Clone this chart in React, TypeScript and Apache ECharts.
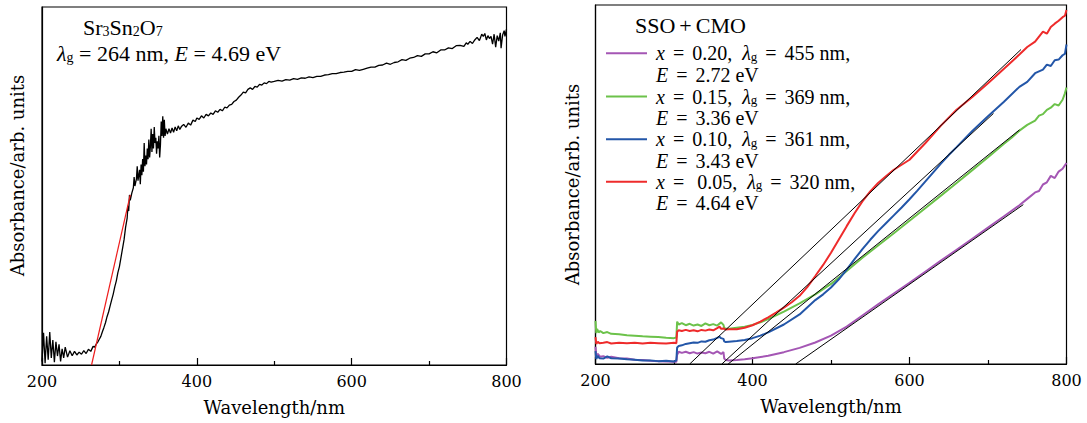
import React, { useEffect, useRef } from 'react';
import * as echarts from 'echarts';

// ---------- Left panel: Sr3Sn2O7 ----------
const ssoWavelength = [
  200, 202, 204, 206, 208, 210, 212, 214, 216, 218, 220, 222, 224, 226, 228, 230, 233, 236, 239, 242,
  245, 248, 251, 254, 257, 260, 263, 266, 268,
  270, 272, 274, 276, 278, 280, 282, 284, 286, 288,
  290, 292, 294, 296, 298, 300, 302, 304, 306, 308, 310, 311, 312, 313, 314, 316, 318, 319, 320, 322,
  323, 324, 326, 327, 328, 329, 330, 331, 332, 333, 334, 335, 336, 337, 338, 339, 340, 341, 342, 343,
  344, 345, 346, 347, 348, 349, 350, 351, 352, 353, 354, 355, 356, 357, 358, 359, 360, 362, 364, 366,
  368, 370, 372, 374, 376, 378, 380, 383, 386, 389, 392, 395, 398, 400, 403, 406, 409, 412, 415, 418,
  421, 424, 427, 430, 433, 436, 439, 442, 445, 448, 451, 454, 457, 460, 463, 466, 469, 472, 475, 478,
  481, 484, 487, 490, 493, 496, 500, 505, 510, 515, 520, 525, 530, 535, 540, 545, 550, 555, 560, 565,
  570, 575, 580, 585, 590, 595, 600, 605, 610, 615, 620, 625, 630, 635, 640, 645, 650, 655, 660, 665,
  670, 675, 680, 685, 690, 695, 700, 705, 710, 715, 720, 725, 730, 735, 740, 745, 748, 750, 753, 756,
  759, 762, 765, 768, 770, 772, 774, 776, 778, 780, 782, 784, 786, 788, 790, 792, 793, 795, 797, 798, 800,
];
const ssoAbsorbance = [
  1.0, 9.0, 0.5, 8.0, 1.5, 9.2, 2.0, 7.0, 0.8, 6.5, 2.5, 5.8, 1.0, 4.5, 2.0, 5.0, 2.2, 4.0, 2.6, 3.8,
  2.8, 3.6, 3.0, 4.0, 3.2, 4.4, 3.8, 5.2, 5.0,
  5.8, 6.4, 7.2, 8.0, 9.3, 10.5, 11.8, 13.5, 14.8, 16.5,
  18.2, 19.8, 21.8, 23.5, 25.8, 27.5, 30.0, 32.5, 35.0, 38.5, 41.0, 44.5, 43.0, 47.5, 46.0, 48.0, 49.5, 52.5, 50.0, 52.0,
  55.5, 51.5, 54.5, 50.5, 56.0, 53.0, 57.5, 54.0, 62.0, 55.5, 58.5, 56.0, 60.5, 57.5, 63.0, 58.0, 61.0, 66.0, 59.5, 64.5,
  60.5, 66.5, 62.0, 63.5, 59.0, 62.5, 60.5, 64.0, 58.0, 61.5, 68.0, 64.0, 69.5, 63.5, 68.5, 64.0, 66.0, 64.5, 66.0, 64.8,
  66.2, 65.0, 66.5, 65.4, 66.8, 65.8, 66.6, 67.2, 66.4, 67.6, 67.0, 68.4, 68.0, 69.0, 68.6, 69.6, 69.0, 70.0, 69.6, 70.4,
  70.0, 71.0, 70.6, 71.4, 71.0, 72.0, 71.8, 72.6, 72.8, 73.6, 74.0, 74.8, 75.4, 76.2, 76.0, 77.0, 77.4, 77.0, 77.8, 77.6,
  78.4, 78.2, 78.8, 78.6, 79.2, 79.0, 79.2, 79.5, 79.3, 79.7, 79.6, 80.0, 79.8, 80.2, 80.1, 80.5, 80.3, 80.6, 80.6, 81.0,
  81.1, 81.4, 81.4, 81.7, 81.8, 82.0, 82.0, 82.5, 82.3, 82.6, 82.9, 83.2, 83.2, 83.7, 83.8, 84.3, 84.0, 84.5, 84.7, 85.3,
  85.1, 85.7, 85.9, 86.4, 86.2, 86.9, 86.9, 87.5, 87.2, 88.0, 88.0, 88.6, 88.4, 89.2, 89.3, 89.0, 90.0, 89.6, 90.4, 89.8,
  90.8, 91.5, 90.6, 92.4, 91.8, 92.6, 90.8, 92.0, 91.2, 91.8, 89.6, 92.4, 88.8, 92.0, 90.5, 92.8, 88.5, 92.2, 93.4, 91.8, 93.8,
];
const ssoFitWavelength = [264, 314];
const ssoFitAbsorbance = [0, 47.5];

// ---------- Right panel: SSO+CMO ----------
const x020Wavelength = [
  200, 201, 203, 206, 210, 215, 220, 230, 240, 250, 260, 270, 280, 290, 300, 303, 304, 306, 310, 315,
  320, 325, 330, 335, 340, 345, 350, 355, 360, 363, 364, 366, 370, 380, 390, 400, 420, 440, 460, 480,
  500, 520, 540, 560, 580, 600, 620, 640, 660, 680, 700, 720, 740, 750, 760, 765, 770, 775, 780, 785,
  790, 795, 800,
];
const x020Absorbance = [
  4.8, 2.4, 2.8, 2.0, 2.2, 1.7, 2.0, 1.6, 1.5, 1.2, 1.1, 0.9, 0.8, 0.7, 0.6, 0.6, 2.6, 3.4, 3.1, 3.4,
  3.0, 3.3, 2.9, 3.2, 3.0, 3.4, 2.9, 3.5, 2.8, 3.3, 1.5, 1.1, 1.0, 1.1, 1.3, 1.6, 2.3, 3.3, 4.5, 6.0,
  7.9, 10.4, 13.5, 16.6, 19.6, 22.6, 25.7, 28.8, 31.8, 34.9, 38.0, 41.1, 44.2, 46.0, 47.8, 48.2, 50.0, 50.6, 52.4, 51.8,
  53.6, 54.4, 56.0,
];
const x015Wavelength = [
  200, 201, 202, 204, 206, 210, 215, 220, 230, 240, 250, 260, 270, 280, 290, 300, 303, 304, 306, 310,
  315, 320, 325, 330, 335, 340, 345, 350, 355, 360, 363, 364, 366, 370, 380, 390, 400, 410, 420, 440,
  460, 480, 500, 520, 540, 560, 580, 600, 620, 640, 660, 680, 700, 720, 730, 740, 750, 760, 765, 770,
  775, 780, 785, 790, 795, 798, 800,
];
const x015Absorbance = [
  12.0, 8.6, 9.8, 8.8, 9.2, 8.6, 8.9, 8.4, 8.3, 8.0, 7.9, 7.7, 7.6, 7.5, 7.3, 7.2, 7.4, 11.8, 11.0, 11.4,
  10.8, 11.2, 10.7, 11.0, 10.6, 11.3, 10.8, 11.1, 10.7, 11.6, 10.9, 10.0, 9.9, 9.8, 10.1, 10.4, 10.9, 11.6, 12.5, 14.6,
  16.9, 19.4, 22.3, 25.9, 29.6, 33.0, 36.4, 39.9, 43.4, 46.9, 50.4, 54.0, 57.6, 61.3, 63.0, 65.0, 66.6, 67.8, 69.2, 69.6,
  70.8, 71.4, 72.4, 72.0, 73.6, 75.4, 77.0,
];
const x010Wavelength = [
  200, 201, 203, 205, 210, 215, 220, 230, 240, 250, 260, 270, 280, 290, 300, 303, 304, 306, 310, 315,
  320, 325, 330, 335, 340, 345, 350, 355, 358, 360, 363, 364, 366, 370, 380, 390, 400, 410, 420, 440,
  460, 480, 490, 500, 510, 520, 530, 540, 550, 560, 570, 580, 590, 600, 610, 620, 630, 640, 650, 660,
  680, 700, 720, 740, 750, 760, 770, 775, 780, 785, 790, 795, 798, 800,
];
const x010Absorbance = [
  3.6, 1.4, 2.3, 1.6, 1.5, 2.1, 1.6, 1.5, 1.3, 1.2, 1.0, 1.0, 0.8, 0.9, 0.7, 1.0, 4.6, 5.0, 5.2, 5.6,
  5.8, 6.0, 5.9, 6.3, 6.2, 6.6, 6.8, 7.3, 7.6, 7.2, 7.0, 6.3, 6.1, 6.2, 6.4, 6.7, 7.2, 7.9, 8.8, 11.0,
  13.8, 17.8, 19.4, 21.3, 23.6, 26.3, 29.2, 32.0, 34.6, 37.0, 39.2, 41.4, 43.6, 45.9, 48.3, 50.8, 53.3, 55.8, 58.2, 60.4,
  64.9, 69.0, 73.0, 77.2, 78.6, 81.0, 82.0, 83.4, 83.0, 84.6, 84.8, 86.0, 86.4, 89.0,
];
const x005Wavelength = [
  200, 201, 203, 205, 210, 215, 220, 230, 240, 250, 260, 270, 280, 290, 300, 303, 304, 306, 310, 315,
  320, 325, 330, 335, 340, 345, 350, 355, 358, 360, 363, 366, 370, 380, 390, 400, 410, 420, 430, 440,
  450, 460, 470, 480, 490, 500, 510, 520, 530, 540, 550, 560, 570, 580, 590, 600, 610, 620, 640, 660,
  680, 700, 720, 740, 750, 760, 765, 770, 775, 780, 785, 790, 795, 798, 800,
];
const x005Absorbance = [
  7.5, 5.6, 6.2, 5.8, 5.9, 6.1, 5.7, 5.9, 5.8, 5.9, 5.7, 5.9, 5.8, 5.7, 5.9, 5.8, 9.0, 9.4, 9.2, 9.5,
  9.2, 9.4, 9.1, 9.5, 9.3, 9.6, 9.4, 10.0, 10.4, 9.8, 9.9, 9.6, 9.7, 9.7, 10.1, 10.8, 11.8, 13.0, 14.3, 15.7,
  17.2, 19.0, 21.5, 24.5, 27.6, 31.0, 34.7, 38.4, 42.0, 45.3, 48.1, 50.4, 52.3, 54.1, 55.5, 56.9, 59.2, 61.5, 66.4, 70.8,
  74.4, 78.2, 82.2, 86.2, 88.3, 89.8, 91.2, 92.6, 92.0, 93.9, 94.8, 95.6, 96.6, 97.0, 98.6,
];
// Tangent (band-edge) lines
const x020FitWavelength = [455, 745];
const x020FitAbsorbance = [0, 44.4];
const x015FitWavelength = [369, 740];
const x015FitAbsorbance = [0, 65.2];
const x010FitWavelength = [361, 707];
const x010FitAbsorbance = [0, 69.8];
const x005FitWavelength = [320, 742];
const x005FitAbsorbance = [0, 87.6];

const xTickLabels = ['200', '400', '600', '800'];
const xAxisTitle = 'Wavelength/nm';
const yAxisTitle = 'Absorbance/arb. units';
const seriesNames = [
  'x = 0.20, λg = 455 nm, E = 2.72 eV',
  'x = 0.15, λg = 369 nm, E = 3.36 eV',
  'x = 0.10, λg = 361 nm, E = 3.43 eV',
  'x = 0.05, λg = 320 nm, E = 4.64 eV',
];
const seriesColors = ['#a456b4', '#6cc24a', '#2356a8', '#ee2b2b'];

const FONT = "'Liberation Serif', 'Times New Roman', serif";
const AXIS_FONT = 'DejaVu Serif';
const LH = 21.3;

const zip = (xs: number[], ys: number[]) => xs.map((x, i) => [x, ys[i]]);

const richStyles = {
  n: { fontFamily: FONT, fontSize: 20, lineHeight: LH, fill: '#000' },
  i: { fontFamily: FONT, fontSize: 20, lineHeight: LH, fontStyle: 'italic', fill: '#000' },
  e: { fontFamily: FONT, fontSize: 20, lineHeight: LH, padding: [0, 8, 0, 8], fill: '#000' },
  c: { fontFamily: FONT, fontSize: 20, lineHeight: LH, padding: [0, 5, 0, 0], fill: '#000' },
  s: { fontFamily: FONT, fontSize: 13, lineHeight: LH, padding: [6, 0, 0, 0], fill: '#000' },
  N: { fontFamily: FONT, fontSize: 22, lineHeight: 24, fill: '#000' },
  I: { fontFamily: FONT, fontSize: 22, lineHeight: 24, fontStyle: 'italic', fill: '#000' },
  S: { fontFamily: FONT, fontSize: 14, lineHeight: 24, padding: [9, 0, 0, 0], fill: '#000' },
  P: { fontFamily: FONT, fontSize: 22, lineHeight: 24, padding: [0, 4, 0, 4], fill: '#000' },
};

const makeText = (x: number, y: number, text: string, lh: number) => ({
  type: 'text',
  x,
  y,
  silent: true,
  style: {
    text,
    rich: richStyles,
    fontFamily: FONT,
    fontSize: 20,
    lineHeight: lh,
    fill: '#000',
    verticalAlign: 'middle',
    align: 'left',
  },
});

const xAxisBase = (gridIndex: number) => ({
  type: 'value',
  gridIndex,
  min: 200,
  max: 800,
  interval: 200,
  name: xAxisTitle,
  nameLocation: 'middle',
  nameGap: 33,
  nameTextStyle: { fontFamily: AXIS_FONT, fontSize: 18, color: '#000' },
  axisLine: { show: true, lineStyle: { color: '#000', width: 1.2 } },
  axisTick: { show: true, inside: true, length: 7, lineStyle: { color: '#000', width: 1.2 } },
  minorTick: { show: true, splitNumber: 2, length: 4, lineStyle: { color: '#000', width: 1.2 } },
  splitLine: { show: false },
  minorSplitLine: { show: false },
  axisLabel: {
    fontFamily: AXIS_FONT,
    fontSize: 16,
    color: '#000',
    margin: 8,
    formatter: (v: number) => (xTickLabels.includes(String(v)) ? String(v) : ''),
  },
});

const yAxisBase = (gridIndex: number, gap: number, pad: number[]) => ({
  type: 'value',
  gridIndex,
  min: 0,
  max: 100,
  name: yAxisTitle,
  nameLocation: 'middle',
  nameGap: gap,
  nameTextStyle: { fontFamily: AXIS_FONT, fontSize: 18, color: '#000', padding: pad },
  axisLine: { show: true, lineStyle: { color: '#000', width: 1.2 } },
  axisTick: { show: false },
  axisLabel: { show: false },
  splitLine: { show: false },
});

const curve = (name: string, data: number[][], color: string, width: number, xi: number, z = 2) => ({
  name,
  type: 'line',
  xAxisIndex: xi,
  yAxisIndex: xi,
  data,
  symbol: 'none',
  showSymbol: false,
  silent: true,
  z,
  itemStyle: { color },
  lineStyle: { color, width },
});

export default function App() {
  const ref = useRef<HTMLDivElement>(null);
  useEffect(() => {
    if (!ref.current) return;
    const chart = echarts.init(ref.current, null, { renderer: 'svg' });
    const legendY = [53.3, 96.5, 139.3, 181.7];
    const legendTexts = [
      '{i|x}{e|=}{n|0.20,}{c| }{i|λ}{s|g}{e|=}{n|455 nm,}\n{i|E}{e|=}{n|2.72 eV}',
      '{i|x}{e|=}{n|0.15,}{c| }{i|λ}{s|g}{e|=}{n|369 nm,}\n{i|E}{e|=}{n|3.36 eV}',
      '{i|x}{e|=}{n|0.10,}{c| }{i|λ}{s|g}{e|=}{n|361 nm,}\n{i|E}{e|=}{n|3.43 eV}',
      '{i|x}{e|=}{n| 0.05,}{c| }{i|λ}{s|g}{e|=}{n|320 nm,}\n{i|E}{e|=}{n|4.64 eV}',
    ];
    const graphics: any[] = [
      makeText(83, 27, '{N|Sr}{S|3}{N|Sn}{S|2}{N|O}{S|7}', 24),
      makeText(57, 53, '{I|λ}{S|g}{N| = 264 nm, }{I|E}{N| = 4.69 eV}', 24),
      makeText(635, 25, '{N|SSO}{P|+}{N|CMO}', 24),
    ];
    legendY.forEach((y, k) => {
      graphics.push({
        type: 'line',
        silent: true,
        shape: { x1: 606, y1: y, x2: 647, y2: y },
        style: { stroke: seriesColors[k], lineWidth: 2 },
      });
      graphics.push(makeText(656, y + LH / 2, legendTexts[k], LH));
    });

    chart.setOption({
      animation: false,
      backgroundColor: '#fff',
      grid: [
        { left: 42, top: 7, width: 464.5, height: 358, show: true, borderColor: '#000', borderWidth: 1.2, backgroundColor: 'transparent' },
        { left: 595.5, top: 5, width: 471, height: 359, show: true, borderColor: '#000', borderWidth: 1.2, backgroundColor: 'transparent' },
      ],
      xAxis: [xAxisBase(0), xAxisBase(1)],
      yAxis: [yAxisBase(0, 16, [0, 0, 0, 21]), yAxisBase(1, 14, [0, 0, 0, 0])],
      series: [
        curve('Sr3Sn2O7', zip(ssoWavelength, ssoAbsorbance), '#000', 1.3, 0),
        curve('Sr3Sn2O7 fit', zip(ssoFitWavelength, ssoFitAbsorbance), '#ee1c1c', 1.2, 0, 3),
        curve(seriesNames[0], zip(x020Wavelength, x020Absorbance), seriesColors[0], 2, 1),
        curve(seriesNames[1], zip(x015Wavelength, x015Absorbance), seriesColors[1], 2, 1),
        curve(seriesNames[2], zip(x010Wavelength, x010Absorbance), seriesColors[2], 2, 1),
        curve(seriesNames[3], zip(x005Wavelength, x005Absorbance), seriesColors[3], 2, 1),
        curve('fit x = 0.20', zip(x020FitWavelength, x020FitAbsorbance), '#000', 1, 1, 3),
        curve('fit x = 0.15', zip(x015FitWavelength, x015FitAbsorbance), '#000', 1, 1, 3),
        curve('fit x = 0.10', zip(x010FitWavelength, x010FitAbsorbance), '#000', 1, 1, 3),
        curve('fit x = 0.05', zip(x005FitWavelength, x005FitAbsorbance), '#000', 1, 1, 3),
      ],
      graphic: graphics,
    });

    return () => chart.dispose();
  }, []);
  return (
    <div
      ref={ref}
      style={{ position: 'fixed', left: 0, top: 0, width: 1087, height: 423, background: '#fff' }}
    />
  );
}
